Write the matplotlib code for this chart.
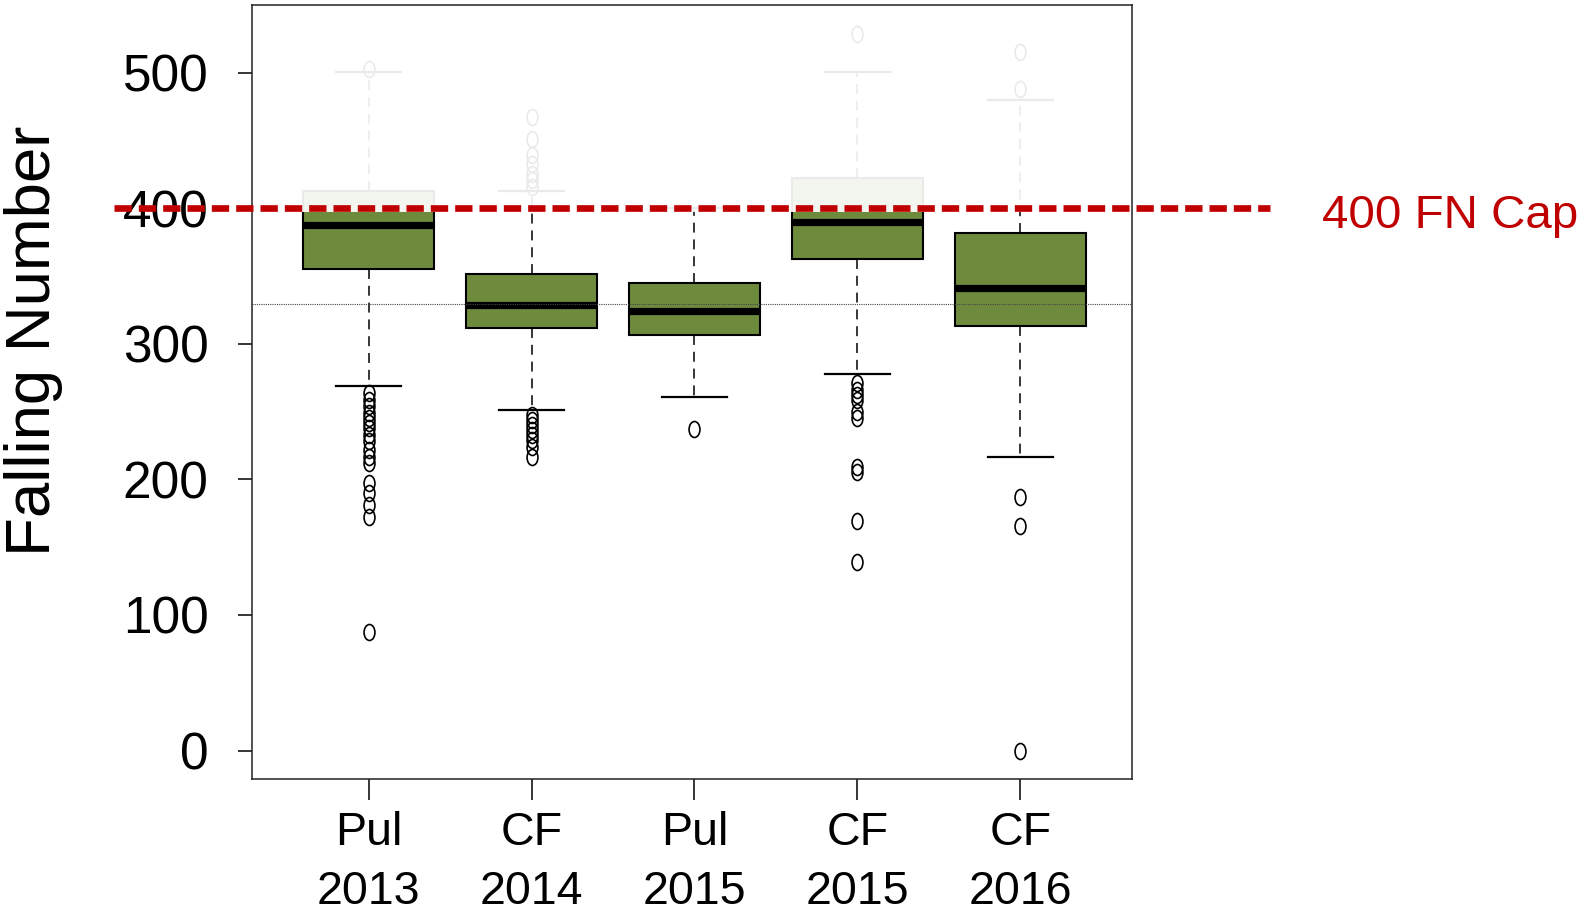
import matplotlib
matplotlib.use("Agg")
import matplotlib.pyplot as plt
from matplotlib.path import Path
from matplotlib.transforms import Affine2D

# boxplot stats
labels = ["Pul\n2013", "CF\n2014", "Pul\n2015", "CF\n2015", "CF\n2016"]
q1 = [355.0, 312.0, 306.6, 362.3, 313.2]
med = [387.6, 328.7, 324.2, 390.0, 340.9]
q3 = [412.9, 351.3, 344.6, 422.7, 381.5]
whislo = [269.0, 251.3, 260.6, 277.8, 216.4]
whishi = [500.6, 412.9, 400.0, 500.6, 479.7]
fliers = [
    [503.0, 263.6, 258.7, 253.8, 248.9, 245.2, 241.5, 237.8, 232.9, 228.0,
     221.8, 216.9, 212.0, 197.3, 189.9, 181.3, 172.6, 87.7],
    [467.4, 451.4, 439.2, 433.0, 425.6, 420.7, 415.8,
     247.6, 243.9, 240.2, 236.6, 232.9, 229.2, 224.2, 216.9],
    [237.5],
    [528.9, 270.9, 266.0, 262.3, 258.7, 250.0, 245.1, 209.5, 205.8, 169.0, 138.8],
    [515.3, 488.3, 186.7, 165.3, 0.0],
]
overall_median = 329.4
fn_cap = 400

stats = []
for i in range(len(labels)):
    stats.append(dict(label=labels[i], q1=q1[i], med=med[i], q3=q3[i],
                      whislo=whislo[i], whishi=whishi[i], fliers=fliers[i]))

plt.rcParams["font.family"] = ["Liberation Sans", "DejaVu Sans"]

fig = plt.figure(figsize=(15.86, 9.13), dpi=100)
ax = fig.add_axes([0.1589, 0.1468, 0.5549, 0.8477])

ellipse = Path.unit_circle().transformed(Affine2D().scale(0.68, 1.0))

ax.bxp(stats, positions=range(1, 6), widths=0.8, capwidths=0.4,
       patch_artist=True, zorder=2,
       boxprops=dict(facecolor="#6E8B3D", edgecolor="black", linewidth=1.5),
       medianprops=dict(color="black", linewidth=5.2, solid_capstyle="butt"),
       whiskerprops=dict(color="black", linewidth=1.1, linestyle=(0, (6.5, 4.5))),
       capprops=dict(color="black", linewidth=1.6),
       flierprops=dict(marker=ellipse, markersize=11.5, markerfacecolor="none",
                       markeredgecolor="black", markeredgewidth=1.2))

# overall median reference
ax.axhline(overall_median, color="#444444", linewidth=0.8,
           linestyle=(0, (1, 1)), zorder=2.1)

# fade everything above the cap
ax.axhspan(fn_cap - 2.5, 600, color="white", alpha=0.92, zorder=2.2, linewidth=0)

ax.axhline(fn_cap, xmin=-0.157, xmax=1.157, clip_on=False, color="#C00000",
           linewidth=4.8, dashes=(2.6, 1.05), zorder=5)

ax.set_xlim(0.285, 5.685)
ax.set_ylim(-21, 550)
ax.set_yticks([0, 100, 200, 300, 400, 500])
ax.set_xticks(range(1, 6))
ax.set_xticklabels(labels, fontsize=33.5, linespacing=1.45)
ax.tick_params(axis="y", labelsize=37, length=10.3, width=1.1, pad=21)
ax.tick_params(axis="x", length=15, width=1.1, pad=8)

for sp in ax.spines.values():
    sp.set_linewidth(1.1)
    sp.set_color("#222222")

fig.text(34 / 1586, 1 - 341 / 913, "Falling Number", rotation=90,
         fontsize=45.7, ha="center", va="center")
fig.text(0.8335, 1 - 228.3 / 913, "400 FN Cap", color="#C00000",
         fontsize=34.2, ha="left", va="baseline")

fig.savefig("out.png", dpi=100)
